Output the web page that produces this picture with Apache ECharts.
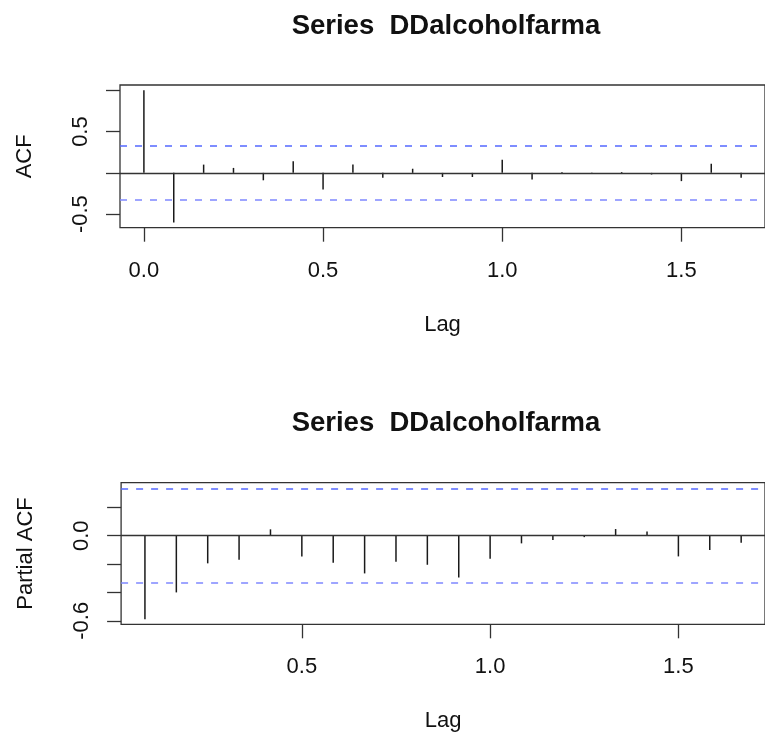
<!DOCTYPE html>
<html>
<head>
<meta charset="utf-8">
<script src="https://cdn.jsdelivr.net/npm/echarts@6/dist/echarts.min.js"></script>
<style>
html,body{margin:0;padding:0;background:#fff;}
#chart{width:765px;height:738px;}
</style>
</head>
<body>
<div id="chart"></div>
<script>
// Lags (in years, monthly series)
var acfLags = [0, 0.0833, 0.1667, 0.25, 0.3333, 0.4167, 0.5, 0.5833, 0.6667, 0.75, 0.8333,
               0.9167, 1.0, 1.0833, 1.1667, 1.25, 1.3333, 1.4167, 1.5, 1.5833, 1.6667];
var acfValues = [1.0, -0.60, 0.10, 0.06, -0.09, 0.14, -0.20, 0.10, -0.06, 0.05, -0.05,
                 -0.05, 0.16, -0.08, 0.01, -0.01, 0.01, -0.02, -0.10, 0.11, -0.06];
var pacfLags = [0.0833, 0.1667, 0.25, 0.3333, 0.4167, 0.5, 0.5833, 0.6667, 0.75, 0.8333,
                0.9167, 1.0, 1.0833, 1.1667, 1.25, 1.3333, 1.4167, 1.5, 1.5833, 1.6667];
var pacfValues = [-0.59, -0.40, -0.195, -0.17, 0.045, -0.146, -0.19, -0.266, -0.184, -0.205,
                  -0.294, -0.162, -0.054, -0.03, -0.01, 0.047, 0.03, -0.146, -0.10, -0.05];
var confLimit = 0.334;
var titleText = 'Series  DDalcoholfarma';
var xTicks = [0, 0.5, 1.0, 1.5];
var acfYTicks = [-0.5, 0, 0.5, 1.0];
var acfYLabels = [-0.5, 0.5];
var pacfYTicks = [-0.6, -0.4, -0.2, 0, 0.2];
var pacfYLabels = [-0.6, 0];

var FONT = '"Liberation Sans", Arial, Helvetica, sans-serif';
var chart = echarts.init(document.getElementById('chart'));

function pairs(xs, ys) { return xs.map(function (x, i) { return [x, ys[i]]; }); }

function spikeItem(params, api) {
  var p0 = api.coord([api.value(0), 0]);
  var p1 = api.coord([api.value(0), api.value(1)]);
  return { type: 'line', shape: { x1: p0[0], y1: p0[1], x2: p1[0], y2: p1[1] },
           style: { stroke: '#1a1a1a', lineWidth: 1.5 } };
}

function refLines() {
  return {
    silent: true, symbol: 'none', label: { show: false },
    data: [
      { yAxis: 0, lineStyle: { color: '#333', width: 1.3, type: 'solid' } },
      { yAxis: confLimit, lineStyle: { color: '#5468ff', width: 1.5, type: [7, 8] } },
      { yAxis: -confLimit, lineStyle: { color: '#7f88ff', width: 1.5, type: [7, 8] } }
    ]
  };
}

function xAxisCfg(gridIndex, min, max) {
  return {
    type: 'value', gridIndex: gridIndex, min: min, max: max,
    name: 'Lag', nameLocation: 'middle', nameGap: 86,
    nameTextStyle: { fontFamily: FONT, fontSize: 22, color: '#111' },
    axisLine: { show: false, onZero: false },
    splitLine: { show: false },
    axisTick: { show: true, inside: false, length: 14, lineStyle: { color: '#333', width: 1.3 }, customValues: xTicks },
    axisLabel: { show: true, margin: 32, fontFamily: FONT, fontSize: 22, color: '#111',
                 customValues: xTicks, formatter: function (v) { return v.toFixed(1); } }
  };
}

function yAxisCfg(gridIndex, min, max, name, ticks, labels) {
  return {
    type: 'value', gridIndex: gridIndex, min: min, max: max, position: 'left',
    name: name, nameLocation: 'middle', nameGap: 84,
    nameTextStyle: { fontFamily: FONT, fontSize: 22, color: '#111' },
    axisLine: { show: false, onZero: false },
    splitLine: { show: false },
    axisTick: { show: true, inside: false, length: 14, lineStyle: { color: '#333', width: 1.3 }, customValues: ticks },
    axisLabel: { show: true, rotate: 90, margin: 28, fontFamily: FONT, fontSize: 22, color: '#111',
                 customValues: labels, formatter: function (v) { return v.toFixed(1); } }
  };
}

var option = {
  animation: false,
  backgroundColor: '#fff',
  title: [
    { text: titleText, left: 441, top: 7, textAlign: 'center',
      textStyle: { fontFamily: FONT, fontSize: 27.5, fontWeight: 'bold', color: '#111' } },
    { text: titleText, left: 441, top: 404.5, textAlign: 'center',
      textStyle: { fontFamily: FONT, fontSize: 27.5, fontWeight: 'bold', color: '#111' } }
  ],
  grid: [
    { left: 120, top: 85, width: 651.3, height: 142.7, show: true, borderColor: '#333', borderWidth: 1.3, backgroundColor: 'transparent' },
    { left: 121.1, top: 482.7, width: 651, height: 141.6, show: true, borderColor: '#333', borderWidth: 1.3, backgroundColor: 'transparent' }
  ],
  xAxis: [
    xAxisCfg(0, -0.0667, 1.7333),
    xAxisCfg(1, 0.02, 1.73)
  ],
  yAxis: [
    yAxisCfg(0, -0.664, 1.064, 'ACF', acfYTicks, acfYLabels),
    yAxisCfg(1, -0.625, 0.374, 'Partial ACF', pacfYTicks, pacfYLabels)
  ],
  series: [
    { type: 'custom', xAxisIndex: 0, yAxisIndex: 0, data: pairs(acfLags, acfValues),
      renderItem: spikeItem, markLine: refLines(), silent: true },
    { type: 'custom', xAxisIndex: 1, yAxisIndex: 1, data: pairs(pacfLags, pacfValues),
      renderItem: spikeItem, markLine: refLines(), silent: true }
  ]
};
chart.setOption(option);
</script>
</body>
</html>
